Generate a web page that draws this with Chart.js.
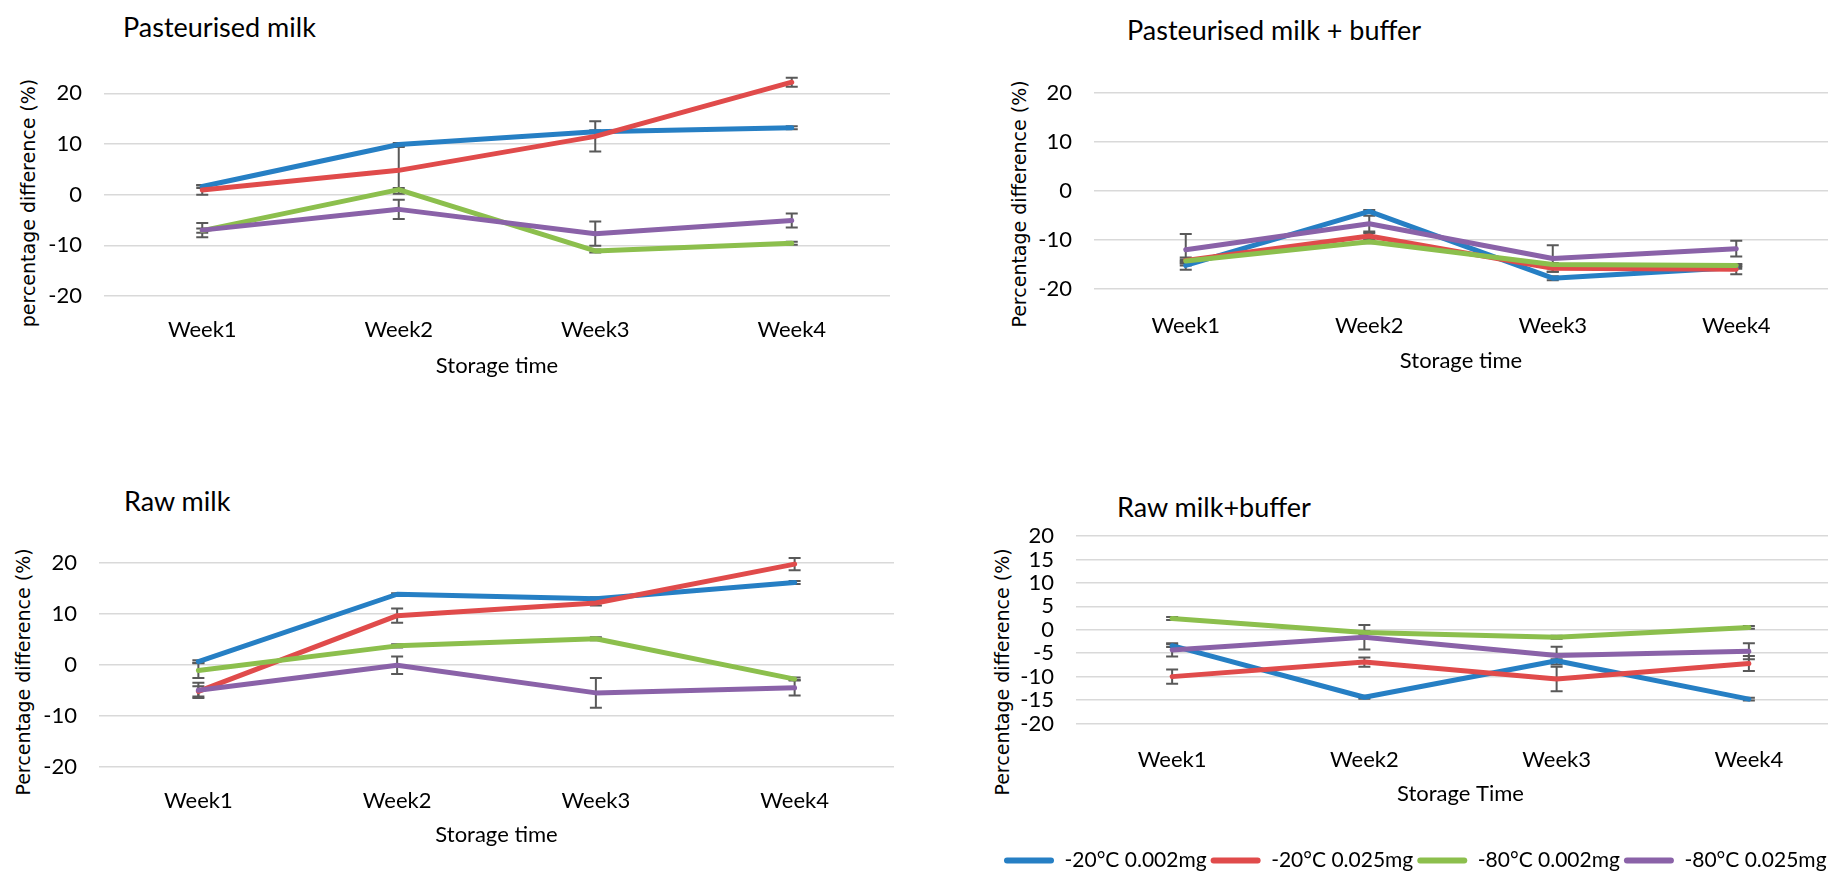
<!DOCTYPE html>
<html>
<head>
<meta charset="utf-8">
<title>Percentage difference during storage</title>
<script src="https://cdn.jsdelivr.net/npm/chart.js"></script>
<style>
    html, body { margin: 0; padding: 0; background: #fff; }
    body { width: 1828px; height: 872px; overflow: hidden; position: relative; }
    canvas { position: absolute; }
    .title {
        position: absolute;
        font-family: Lato, sans-serif;
        font-size: 27px;
        line-height: 32px;
        color: #000;
        white-space: nowrap;
    }
    .ytitle {
        position: absolute;
        font-family: "DejaVu Sans", sans-serif;
        font-size: 19px;
        line-height: 22px;
        color: #000;
        white-space: nowrap;
        transform: translate(-50%, -50%) rotate(-90deg);
    }
</style>
</head>
<body>
    <div class="title" style="left:123px; top:11px;">Pasteurised milk</div>
    <div class="title" style="left:1127px; top:14px;">Pasteurised milk + buffer</div>
    <div class="title" style="left:124px; top:485px;">Raw milk</div>
    <div class="title" style="left:1117px; top:491px;">Raw milk+buffer</div>

    <div class="ytitle" style="left:28px; top:203px;">percentage difference (%)</div>
    <div class="ytitle" style="left:1019px; top:204px;">Percentage difference (%)</div>
    <div class="ytitle" style="left:23px; top:672px;">Percentage difference (%)</div>
    <div class="ytitle" style="left:1002px; top:672px;">Percentage difference (%)</div>

    <canvas id="pastChart"></canvas>
    <canvas id="pastBufChart"></canvas>
    <canvas id="rawChart"></canvas>
    <canvas id="rawBufChart"></canvas>

    <script>
        // categories and series names
        const weeks = ["Week1", "Week2", "Week3", "Week4"];
        const seriesNames = ["-20°C 0.002mg", "-20°C 0.025mg", "-80°C 0.002mg", "-80°C 0.025mg"];
        const seriesColors = ["#267fc4", "#e04b4b", "#8cbf4d", "#8a62a8"];

        // Pasteurised milk
        const pastBlue   = [1.6, 9.9, 12.4, 13.2];
        const pastRed    = [0.9, 4.8, 11.5, 22.2];
        const pastGreen  = [-7.1, 1.0, -11.1, -9.6];
        const pastPurple = [-7.0, -2.9, -7.7, -5.1];
        const pastBlueErr   = [0.3, 0.3, 0.3, 0.3];
        const pastRedErr    = [0.9, 4.6, 3.0, 0.9];
        const pastGreenErr  = [0.4, 0.3, 0.3, 0.3];
        const pastPurpleErr = [1.4, 1.9, 2.4, 1.4];

        // Pasteurised milk + buffer
        const pastBufBlue   = [-15.2, -4.2, -17.8, -15.6];
        const pastBufRed    = [-14.2, -9.2, -15.8, -16.0];
        const pastBufGreen  = [-14.3, -10.4, -15.0, -15.2];
        const pastBufPurple = [-12.0, -6.7, -13.8, -11.8];
        const pastBufBlueErr   = [0.9, 0.3, 0.4, 0.3];
        const pastBufRedErr    = [0.6, 0.6, 0.7, 1.0];
        const pastBufGreenErr  = [0.3, 0.3, 0.3, 0.3];
        const pastBufPurpleErr = [3.2, 1.6, 2.7, 1.6];

        // Raw milk
        const rawBlue   = [0.6, 13.8, 12.9, 16.1];
        const rawRed    = [-5.2, 9.6, 12.1, 19.7];
        const rawGreen  = [-1.1, 3.7, 5.1, -2.8];
        const rawPurple = [-5.0, -0.1, -5.5, -4.5];
        const rawBlueErr   = [0.3, 0.2, 0.3, 0.3];
        const rawRedErr    = [1.0, 1.4, 0.5, 1.2];
        const rawGreenErr  = [1.5, 0.3, 0.3, 0.3];
        const rawPurpleErr = [1.5, 1.7, 2.9, 1.5];

        // Raw milk + buffer
        const rawBufBlue   = [-3.4, -14.4, -6.6, -14.8];
        const rawBufRed    = [-10.0, -6.9, -10.5, -7.2];
        const rawBufGreen  = [2.4, -0.6, -1.6, 0.5];
        const rawBufPurple = [-4.3, -1.6, -5.5, -4.6];
        const rawBufBlueErr   = [0.3, 0.3, 0.3, 0.3];
        const rawBufRedErr    = [1.5, 1.0, 2.6, 1.6];
        const rawBufGreenErr  = [0.3, 0.3, 0.3, 0.3];
        const rawBufPurpleErr = [1.4, 2.6, 1.9, 1.7];

        // y ticks
        const ticks10 = [-20, -10, 0, 10, 20];
        const ticks5 = [-20, -15, -10, -5, 0, 5, 10, 15, 20];

        Chart.defaults.font.family = "Lato, sans-serif";
        Chart.defaults.color = "#000";

        // simple error bar plugin, drawn under the lines
        const errorBars = {
            id: "errorBars",
            beforeDatasetsDraw(chart) {
                const ctx = chart.ctx;
                const x = chart.scales.x, y = chart.scales.y;
                ctx.save();
                ctx.strokeStyle = "#595959";
                ctx.lineWidth = 2;
                chart.data.datasets.forEach(ds => {
                    ds.errors.forEach((e, j) => {
                        const px = x.getPixelForValue(j);
                        const top = y.getPixelForValue(ds.data[j] + e);
                        const bot = y.getPixelForValue(ds.data[j] - e);
                        ctx.beginPath();
                        ctx.moveTo(px, top); ctx.lineTo(px, bot);
                        ctx.moveTo(px - 6, top); ctx.lineTo(px + 6, top);
                        ctx.moveTo(px - 6, bot); ctx.lineTo(px + 6, bot);
                        ctx.stroke();
                    });
                });
                ctx.restore();
            }
        };

        function makeDatasets(values, errors) {
            return values.map((v, i) => ({
                label: seriesNames[i],
                data: v,
                errors: errors[i],
                borderColor: seriesColors[i],
                backgroundColor: seriesColors[i],
                borderWidth: 5,
                borderCapStyle: "round",
                borderJoinStyle: "round",
                pointRadius: 0,
                tension: 0,
                order: 4 - i
            }));
        }

        // p: plot area in page pixels, plus text offsets
        function makePanel(id, p, values, errors) {
            const yW = p.yW || 100;
            const padTop = 40, padRight = 4;
            const legendH = p.legend ? 35 : 0;
            const canvas = document.getElementById(id);
            const left = p.L - yW;
            const top = p.T - padTop;
            canvas.width = Math.round(p.R - left + padRight);
            canvas.height = Math.round(p.B + p.xH - top + legendH);
            canvas.style.left = left + "px";
            canvas.style.top = top + "px";

            new Chart(canvas.getContext("2d"), {
                type: "line",
                data: { labels: weeks, datasets: makeDatasets(values, errors) },
                options: {
                    responsive: false,
                    animation: false,
                    devicePixelRatio: 1,
                    layout: { padding: { top: padTop, right: padRight, left: 0, bottom: 0 } },
                    plugins: {
                        tooltip: { enabled: false },
                        legend: {
                            display: !!p.legend,
                            position: "bottom",
                            align: "start",
                            labels: {
                                boxWidth: 50,
                                boxHeight: 6,
                                padding: 4,
                                color: "#000",
                                font: { size: 21 },
                                sort: (a, b) => a.datasetIndex - b.datasetIndex,
                                generateLabels: chart => Chart.defaults.plugins.legend.labels
                                    .generateLabels(chart)
                                    .map(it => Object.assign(it, { lineWidth: 0, borderRadius: 3 }))
                            }
                        }
                    },
                    scales: {
                        x: {
                            offset: true,
                            grid: { display: false, drawTicks: false },
                            border: { display: false },
                            ticks: { padding: p.tickPad, font: { size: 22 }, color: "#000" },
                            title: {
                                display: true,
                                text: p.xTitle,
                                font: { size: 22 },
                                color: "#000",
                                padding: { top: 0, bottom: p.xH - 13.2 - p.titleOff }
                            },
                            afterFit: s => { s.height = p.xH; }
                        },
                        y: {
                            min: p.min,
                            max: p.max,
                            grid: { color: "#d9d9d9", lineWidth: 1.5, drawTicks: false },
                            border: { display: false },
                            ticks: { padding: 22, font: { size: 22 }, color: "#000", autoSkip: false },
                            afterBuildTicks: s => { s.ticks = p.ticks.map(v => ({ value: v })); },
                            afterFit: s => { s.width = yW; }
                        }
                    }
                },
                plugins: [errorBars]
            });
        }

        makePanel("pastChart",
            { L: 104, R: 890, T: 68.3, B: 296.3, xH: 90, tickPad: 21, titleOff: 70,
              min: -20, max: 25, ticks: ticks10, xTitle: "Storage time" },
            [pastBlue, pastRed, pastGreen, pastPurple],
            [pastBlueErr, pastRedErr, pastGreenErr, pastPurpleErr]);

        makePanel("pastBufChart",
            { L: 1094, R: 1828, T: 67.8, B: 288.3, xH: 90, tickPad: 24, titleOff: 72,
              min: -20, max: 25, ticks: ticks10, xTitle: "Storage time" },
            [pastBufBlue, pastBufRed, pastBufGreen, pastBufPurple],
            [pastBufBlueErr, pastBufRedErr, pastBufGreenErr, pastBufPurpleErr]);

        makePanel("rawChart",
            { L: 99, R: 894, T: 537, B: 767, xH: 90, tickPad: 21, titleOff: 68,
              min: -20, max: 25, ticks: ticks10, xTitle: "Storage time" },
            [rawBlue, rawRed, rawGreen, rawPurple],
            [rawBlueErr, rawRedErr, rawGreenErr, rawPurpleErr]);

        makePanel("rawBufChart",
            { L: 1076, R: 1845, T: 536.3, B: 724, xH: 122.5, yW: 76, tickPad: 23, titleOff: 70,
              min: -20, max: 20, ticks: ticks5, xTitle: "Storage Time", legend: true },
            [rawBufBlue, rawBufRed, rawBufGreen, rawBufPurple],
            [rawBufBlueErr, rawBufRedErr, rawBufGreenErr, rawBufPurpleErr]);
    </script>
</body>
</html>
